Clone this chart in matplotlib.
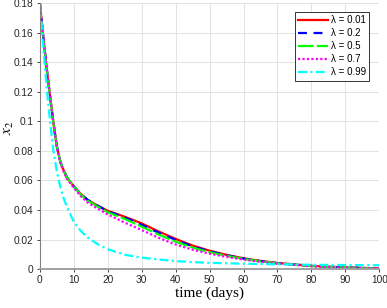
"""Decay of x2 for several fractional orders."""

import matplotlib

matplotlib.use("Agg")
import matplotlib.pyplot as plt

# values
days = [0, 1, 2, 3, 4, 5, 6, 7, 8, 10, 12, 14, 17, 20, 25, 30, 35, 40, 45,
        50, 55, 60, 65, 70, 80, 90, 100]
x2_001 = [0.18, 0.157, 0.136, 0.117, 0.099, 0.083, 0.073, 0.067, 0.062,
          0.056, 0.051, 0.047, 0.043, 0.0395, 0.0355, 0.031, 0.0255, 0.0205,
          0.016, 0.0125, 0.0097, 0.0074, 0.0056, 0.0042, 0.0023, 0.0012, 0.0006]
x2_02 = [0.18, 0.157, 0.136, 0.117, 0.099, 0.083, 0.073, 0.067, 0.062,
         0.056, 0.051, 0.047, 0.043, 0.0392, 0.035, 0.030, 0.0247, 0.0198,
         0.0154, 0.0121, 0.0094, 0.0072, 0.0055, 0.0041, 0.0022, 0.0011, 0.0005]
x2_05 = [0.18, 0.157, 0.136, 0.117, 0.099, 0.083, 0.073, 0.067, 0.062,
         0.056, 0.0505, 0.0465, 0.0423, 0.0385, 0.034, 0.0288, 0.0234, 0.0186,
         0.0146, 0.0115, 0.009, 0.007, 0.0053, 0.004, 0.0021, 0.0011, 0.0005]
x2_07 = [0.18, 0.157, 0.136, 0.117, 0.099, 0.083, 0.072, 0.066, 0.061,
         0.055, 0.0495, 0.0452, 0.041, 0.037, 0.0315, 0.0265, 0.0212, 0.0167,
         0.0132, 0.0105, 0.0083, 0.0065, 0.005, 0.0038, 0.002, 0.001, 0.0005]
x2_099 = [0.18, 0.15, 0.123, 0.1, 0.08, 0.066, 0.056, 0.048, 0.042, 0.032,
          0.026, 0.0215, 0.017, 0.0135, 0.0098, 0.0078, 0.0066, 0.0055,
          0.0048, 0.0043, 0.004, 0.0037, 0.0035, 0.0033, 0.003, 0.0028, 0.0027]

series = [
    (x2_001, "λ = 0.01", "#ff0000", "-"),
    (x2_02, "λ = 0.2", "#0000ff", (0, (4, 3))),
    (x2_05, "λ = 0.5", "#00ff00", (0, (7, 1.5))),
    (x2_07, "λ = 0.7", "#ff00ff", (0, (1, 1))),
    (x2_099, "λ = 0.99", "#00ffff", (0, (4, 1.5, 1, 1.5))),
]

plt.rcParams["font.family"] = ["Liberation Sans", "DejaVu Sans"]
plt.rcParams["mathtext.fontset"] = "stix"

fig = plt.figure(figsize=(3.87, 3.08), dpi=100)
ax = fig.add_axes([0.103, 0.126, 0.877, 0.864])

for vals, label, color, ls in series:
    ax.plot(days, vals, color=color, linestyle=ls, linewidth=1.6, label=label)

ax.set_xlim(0, 100)
ax.set_ylim(0, 0.18)
ax.set_xticks(range(0, 101, 10))
ax.set_yticks([0, 0.02, 0.04, 0.06, 0.08, 0.1, 0.12, 0.14, 0.16, 0.18])
ax.set_yticklabels(["0", "0.02", "0.04", "0.06", "0.08", "0.1", "0.12",
                    "0.14", "0.16", "0.18"])
ax.tick_params(labelsize=7.3, length=2, pad=2.5, colors="#262626", width=0.6)
ax.grid(True, color="#dedede", linewidth=0.6)
ax.set_axisbelow(True)
for side in ("top", "right"):
    ax.spines[side].set_visible(False)
ax.spines["left"].set_color("#808080")
ax.spines["left"].set_linewidth(0.8)
ax.spines["bottom"].set_color("#a0a0a0")
ax.spines["bottom"].set_linewidth(1.4)

ax.set_xlabel("time (days)", family="Liberation Serif", fontsize=11, labelpad=1)
ax.set_ylabel(r"$x_2$", fontsize=11)
ax.yaxis.set_label_coords(-0.07, 0.53)

leg = ax.legend(loc="upper right", bbox_to_anchor=(0.97, 0.968), fontsize=7,
                fancybox=False, framealpha=1, edgecolor="#333333",
                handlelength=3.0, handletextpad=0.3, borderpad=0.35,
                labelspacing=0.32, borderaxespad=0)
leg.get_frame().set_linewidth(0.7)

fig.savefig("out.png", dpi=100)
